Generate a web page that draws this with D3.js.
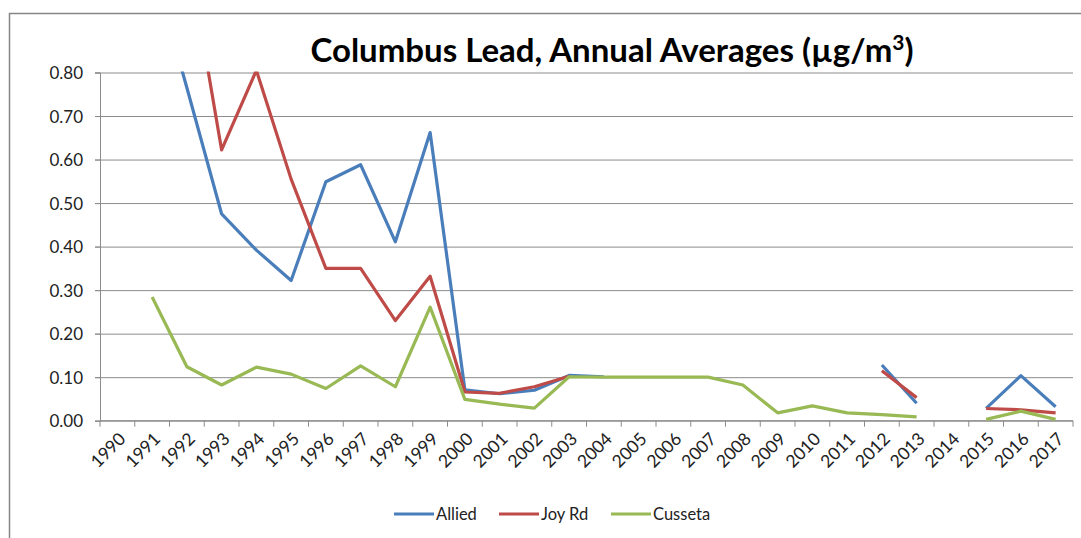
<!DOCTYPE html>
<html>
<head>
<meta charset="utf-8">
<script src="https://cdn.jsdelivr.net/npm/d3@7"></script>
<style>
  body { margin: 0; background: #fff; }
  svg { display: block; font-family: "Lato", "Open Sans", sans-serif; }
  .grid line { stroke: #8c8c8c; stroke-width: 1; }
  .grid path { display: none; }
  .axis path, .axis line { stroke: #8c8c8c; }
  .axis text { fill: #222; font-size: 17px; font-family: "Lato", sans-serif; }
</style>
</head>
<body>
<div id="chart"></div>
<script>
// Columbus lead, annual averages (ug/m3), three monitors

const WIDTH = 1081;
const HEIGHT = 538;

const years = d3.range(1990, 2018).map(String);

// values, null = no data
const allied = [null, 1.05, 0.765, 0.475, 0.392, 0.322, 0.549, 0.588, 0.411, 0.662,
  0.071, 0.062, 0.070, 0.104, 0.101, null, null, null, null, null,
  null, null, 0.128, 0.040, null, 0.0285, 0.1035, 0.032];
const joyRd = [null, null, 1.09, 0.622, 0.805, 0.555, 0.350, 0.350, 0.230, 0.332,
  0.066, 0.063, 0.078, 0.102, null, null, null, null, null, null,
  null, null, 0.115, 0.053, null, 0.028, 0.025, 0.018];
const cusseta = [null, 0.284, 0.124, 0.082, 0.123, 0.107, 0.074, 0.126, 0.078, 0.261,
  0.049, 0.038, 0.029, 0.101, 0.100, 0.100, 0.100, 0.100, 0.082, 0.018,
  0.034, 0.018, 0.014, 0.009, null, 0.003, 0.022, 0.003];

const seriesNames = ["Allied", "Joy Rd", "Cusseta"];
const seriesColors = ["#4a7ebb", "#be4b48", "#98b954"];
const yTicks = [0, 0.1, 0.2, 0.3, 0.4, 0.5, 0.6, 0.7, 0.8];

const series = [allied, joyRd, cusseta].map((vals, i) => ({
  name: seriesNames[i],
  color: seriesColors[i],
  values: vals.map((v, j) => ({ year: years[j], v }))
}));

const margin = { top: 72.5, right: 8, bottom: 117, left: 100 };
const innerW = 1073 - margin.left;
const innerH = 420.7 - margin.top;

const svg = d3.select("#chart")
  .append("svg")
  .attr("width", WIDTH)
  .attr("height", HEIGHT);

// outer chart border (runs off the right/bottom edge like the source)
svg.append("rect")
  .attr("x", 9.5).attr("y", 13.5)
  .attr("width", 1200).attr("height", 600)
  .attr("fill", "none")
  .attr("stroke", "#868686")
  .attr("stroke-width", 1.5);

// title
const title = svg.append("text")
  .attr("x", 612)
  .attr("y", 62)
  .attr("text-anchor", "middle")
  .style("font-size", "33px")
  .style("font-weight", "700")
  .style("fill", "#000");
title.append("tspan").text("Columbus Lead, Annual Averages (µg/m");
title.append("tspan").attr("dy", -12).style("font-size", "21px").text("3");
title.append("tspan").attr("dy", 12).text(")");

const g = svg.append("g")
  .attr("transform", `translate(${margin.left},${margin.top})`);

const x = d3.scaleBand().domain(years).range([0, innerW]).padding(0);
const y = d3.scaleLinear().domain([0, 0.8]).range([innerH, 0]);

// horizontal gridlines, with small ticks left of the axis
g.append("g")
  .attr("class", "grid")
  .attr("transform", "translate(-5,0)")
  .call(d3.axisLeft(y).tickValues(yTicks).tickSize(-(innerW + 5)).tickFormat(""));

// y axis
g.append("g")
  .attr("class", "axis")
  .call(d3.axisLeft(y).tickValues(yTicks).tickSize(5).tickFormat(d3.format(".2f")))
  .call(s => s.selectAll("text").attr("x", -17).attr("dy", "0.36em"));

// x axis with ticks between categories
const xAxis = g.append("g")
  .attr("class", "axis")
  .attr("transform", `translate(0,${innerH})`);
xAxis.append("line")
  .attr("x1", 0).attr("x2", innerW)
  .attr("stroke", "#8c8c8c");
xAxis.selectAll("line.tk")
  .data(d3.range(years.length + 1))
  .join("line")
  .attr("class", "tk")
  .attr("x1", i => i * x.step()).attr("x2", i => i * x.step())
  .attr("y1", 0).attr("y2", 6)
  .attr("stroke", "#8c8c8c");
xAxis.selectAll("text")
  .data(years)
  .join("text")
  .attr("transform", d => `translate(${x(d) + x.bandwidth() / 2 + 5},${15}) rotate(-45)`)
  .attr("text-anchor", "end")
  .attr("dy", "0.35em")
  .style("font-size", "17.5px")
  .text(d => d);

// clip lines at the plot area (values above 0.80 run off the top)
svg.append("clipPath").attr("id", "plot-clip")
  .append("rect")
  .attr("x", 0).attr("y", -1)
  .attr("width", innerW).attr("height", innerH + 2);

const line = d3.line()
  .defined(d => d.v != null)
  .x(d => x(d.year) + x.bandwidth() / 2)
  .y(d => y(d.v));

g.append("g")
  .attr("clip-path", "url(#plot-clip)")
  .selectAll("path")
  .data(series)
  .join("path")
  .attr("fill", "none")
  .attr("stroke", d => d.color)
  .attr("stroke-width", 3.2)
  .attr("stroke-linejoin", "round")
  .attr("d", d => line(d.values));

// legend
const legendX = [394, 499, 611];
const legend = svg.append("g")
  .selectAll("g")
  .data(series)
  .join("g")
  .attr("transform", (d, i) => `translate(${legendX[i]},514)`);
legend.append("line")
  .attr("x1", 0).attr("x2", 40)
  .attr("stroke", d => d.color)
  .attr("stroke-width", 3.2);
legend.append("text")
  .attr("x", 42)
  .attr("dy", "0.35em")
  .style("font-size", "16.5px")
  .style("fill", "#222")
  .text(d => d.name);
</script>
</body>
</html>
